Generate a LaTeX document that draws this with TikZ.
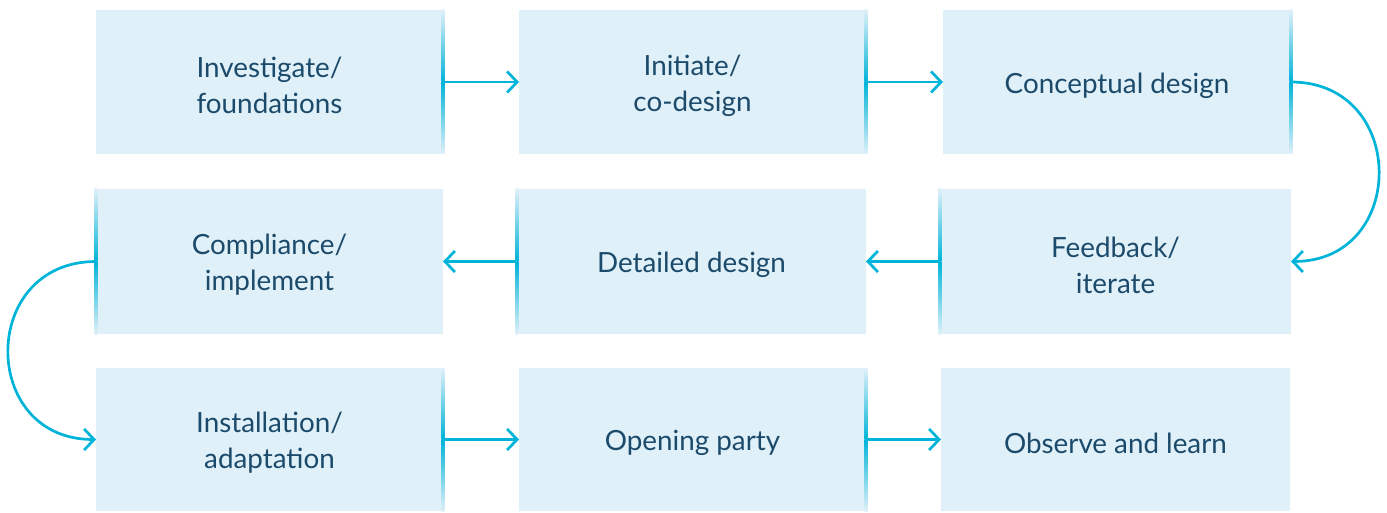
\documentclass[tikz,border=0pt]{standalone}
\usepackage{fontspec}
\setmainfont{Lato}
\usetikzlibrary{arrows.meta}
\definecolor{boxc}{HTML}{DFF0F8}
\definecolor{arrowc}{HTML}{00B4D9}
\definecolor{textc}{HTML}{1B4A6B}
\tikzset{
  stage/.style={rectangle, fill=boxc, inner sep=0pt, outer sep=0pt},
  stagetext/.style={inner sep=0pt, align=center, text=textc,
    font=\fontsize{27.8}{36}\selectfont},
  flow/.style={draw=arrowc, line width=2.7pt, -{Straight Barb[length=10pt,width=21pt,line width=2.7pt]}},
}
\newcommand{\srcline}[2]{%
  \fill[top color=boxc, bottom color=arrowc] ([xshift=-1.3pt]#1.north #2) rectangle ([xshift=1.3pt]#1.#2);
  \fill[top color=arrowc, bottom color=boxc] ([xshift=-1.3pt]#1.#2) rectangle ([xshift=1.3pt]#1.south #2);
}
\newcommand{\stagelabel}[2]{\node[stagetext] (#1-t) at ([yshift=-3.5pt]#1.center) {#2};}
\begin{document}
\begin{tikzpicture}[x=1pt,y=1pt]
\useasboundingbox (0,0) rectangle (1387,512);
% row 1
\node[stage, minimum width=347pt, minimum height=144pt] (A) at (269.5,430) {};
\node[stage, minimum width=347pt, minimum height=144pt] (B) at (692.5,430) {};
\node[stage, minimum width=348pt, minimum height=144pt] (C) at (1117,430) {};
% row 2
\node[stage, minimum width=347pt, minimum height=145pt] (D) at (269.5,250.5) {};
\node[stage, minimum width=349pt, minimum height=145pt] (E) at (691.5,250.5) {};
\node[stage, minimum width=351pt, minimum height=145pt] (F) at (1115.5,250.5) {};
% row 3
\node[stage, minimum width=347pt, minimum height=143pt] (G) at (269.5,72.5) {};
\node[stage, minimum width=347pt, minimum height=143pt] (H) at (692.5,72.5) {};
\node[stage, minimum width=349pt, minimum height=143pt] (I) at (1115.5,72.5) {};
% texts
\stagelabel{A}{Investigate/\\foundations}
\stagelabel{B}{Initiate/\\co-design}
\stagelabel{C}{Conceptual design}
\stagelabel{D}{Compliance/\\implement}
\stagelabel{E}{Detailed design}
\stagelabel{F}{Feedback/\\iterate}
\stagelabel{G}{Installation/\\adaptation}
\stagelabel{H}{Opening party}
\stagelabel{I}{Observe and learn}
% source lines
\srcline{A}{east}
\srcline{B}{east}
\srcline{C}{east}
\srcline{F}{west}
\srcline{E}{west}
\srcline{D}{west}
\srcline{G}{east}
\srcline{H}{east}
% arrows
\draw[flow] (A.east) -- (B.west);
\draw[flow] (B.east) -- (C.west);
\draw[flow] (C.east) .. controls +(117,0) and +(117,0) .. (F.east);
\draw[flow] (F.west) -- (E.east);
\draw[flow] (E.west) -- (D.east);
\draw[flow] (D.west) .. controls +(-117,0) and +(-117,0) .. (G.west);
\draw[flow] (G.east) -- (H.west);
\draw[flow] (H.east) -- (I.west);
\end{tikzpicture}
\end{document}
